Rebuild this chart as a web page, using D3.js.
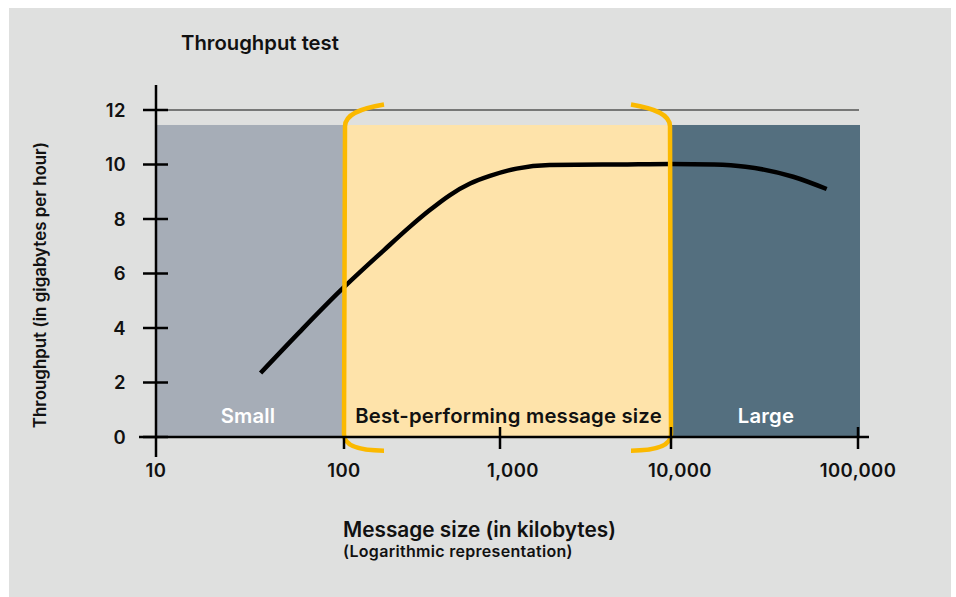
<!DOCTYPE html>
<html>
<head>
<meta charset="utf-8">
<script src="https://cdn.jsdelivr.net/npm/d3@7"></script>
<style>
  body { margin: 0; background: #fff; }
  text { font-family: Inter, "Liberation Sans", sans-serif; font-weight: 600; fill: #111; }
</style>
</head>
<body>
<div id="chart"></div>
<script>
// message size ticks (kilobytes) and y ticks
var xTicks = [10, 100, 1000, 10000, 100000];
var xTickLabels = ['10', '100', '1,000', '10,000', '100,000'];
var yTicks = [0, 2, 4, 6, 8, 10, 12];

// size bands
var bands = [
  { name: 'Small', from: 10, to: 100, fill: '#a6adb7', text: '#fff' },
  { name: 'Best-performing message size', from: 100, to: 10000, fill: '#fee3aa', text: '#111' },
  { name: 'Large', from: 10000, to: 100000, fill: '#546f7f', text: '#fff' }
];
var bandTop = 11.45;

// throughput curve
var sizes = [36, 58, 95, 180, 265, 350, 478, 643, 862, 1250, 1950, 5000, 10000, 17000, 25000, 45000, 68000];
var throughput = [2.35, 3.85, 5.35, 6.85, 7.72, 8.3, 8.88, 9.3, 9.58, 9.85, 9.98, 10.0, 10.02, 10.0, 9.92, 9.55, 9.1];

var width = 956, height = 597;

var svg = d3.select('#chart').append('svg')
  .attr('width', width)
  .attr('height', height);

// background panel
svg.append('rect')
  .attr('x', 9).attr('y', 8)
  .attr('width', 942).attr('height', 589)
  .attr('fill', '#dfe0df');

// the drawing is not a true log axis: each decade has its own width
var x = d3.scaleLog()
  .domain(xTicks)
  .range([156, 344, 500, 671, 858]);

var y = d3.scaleLinear()
  .domain([0, 12])
  .range([437, 110]);

// bands
svg.selectAll('rect.band')
  .data(bands)
  .enter().append('rect')
  .attr('class', 'band')
  .attr('x', function(d) { return x(d.from); })
  .attr('y', y(bandTop))
  .attr('width', function(d) { return x(d.to) - x(d.from) + (d.name === 'Large' ? 2 : 0); })
  .attr('height', y(0) - y(bandTop))
  .attr('fill', function(d) { return d.fill; });

svg.selectAll('text.band-label')
  .data(bands)
  .enter().append('text')
  .attr('class', 'band-label')
  .attr('x', function(d) { return d.name === 'Large' ? x(d.from) + 95 : (x(d.from) + x(d.to)) / 2 + (d.name === 'Small' ? -2 : 1); })
  .attr('y', 423)
  .attr('text-anchor', 'middle')
  .style('fill', function(d) { return d.text; })
  .style('font-size', '20.3px')
  .style('letter-spacing', '0.2px')
  .text(function(d) { return d.name; });

// 12 gridline
svg.append('line')
  .attr('x1', x(10)).attr('x2', x(100000) + 1)
  .attr('y1', y(12)).attr('y2', y(12))
  .attr('stroke', '#111').attr('stroke-width', 1.2);

// curve
var line = d3.line()
  .x(function(d, i) { return x(sizes[i]); })
  .y(function(d) { return y(d); })
  .curve(d3.curveMonotoneX);

svg.append('path')
  .datum(throughput)
  .attr('d', line)
  .attr('fill', 'none')
  .attr('stroke', '#000')
  .attr('stroke-width', 4.5);

// brackets around the best-performing band
var bTop = y(12.2), bBot = y(-0.5), bIn = y(11.4), bOut = y(0.1);
function bracket(xv, dir) {
  var px = x(xv), w = 40 * dir;
  return 'M' + (px + w) + ',' + bTop +
    'C' + (px + w * 0.4) + ',' + (bTop + 4) + ' ' + (px + 1 * dir) + ',' + (bTop + 10) + ' ' + (px + 1 * dir) + ',' + bIn +
    'L' + px + ',' + bOut +
    'C' + px + ',' + (bBot - 6) + ' ' + (px + w * 0.3) + ',' + bBot + ' ' + (px + w) + ',' + bBot;
}
svg.selectAll('path.bracket')
  .data([[100, 1], [10000, -1]])
  .enter().append('path')
  .attr('class', 'bracket')
  .attr('d', function(d) { return bracket(d[0], d[1]); })
  .attr('fill', 'none')
  .attr('stroke', '#fbb900')
  .attr('stroke-width', 4.5)
  .attr('stroke-linecap', 'butt');

// axes
var axisG = svg.append('g');

axisG.append('line')
  .attr('x1', x(10)).attr('x2', x(10))
  .attr('y1', 85).attr('y2', 457)
  .attr('stroke', '#000').attr('stroke-width', 2.5);

axisG.append('line')
  .attr('x1', 139).attr('x2', 869)
  .attr('y1', y(0)).attr('y2', y(0))
  .attr('stroke', '#000').attr('stroke-width', 2.5);

axisG.selectAll('line.ytick')
  .data(yTicks)
  .enter().append('line')
  .attr('class', 'ytick')
  .attr('x1', 143).attr('x2', 168)
  .attr('y1', function(d) { return y(d); })
  .attr('y2', function(d) { return y(d); })
  .attr('stroke', '#000').attr('stroke-width', 2.5);

axisG.selectAll('text.ylabel')
  .data(yTicks)
  .enter().append('text')
  .attr('class', 'ylabel')
  .attr('x', 126)
  .attr('y', function(d) { return y(d); })
  .attr('dy', '0.36em')
  .attr('text-anchor', 'end')
  .style('font-size', '18.5px')
  .style('letter-spacing', '0.4px')
  .text(function(d) { return d; });

axisG.selectAll('line.xtick')
  .data(xTicks.slice(1))
  .enter().append('line')
  .attr('class', 'xtick')
  .attr('x1', function(d) { return x(d); })
  .attr('x2', function(d) { return x(d); })
  .attr('y1', function(d) { return d === 100 ? y(0) : y(0) - 10; })
  .attr('y2', 449)
  .attr('stroke', '#000').attr('stroke-width', 2.5);

axisG.selectAll('text.xlabel')
  .data(xTicks)
  .enter().append('text')
  .attr('class', 'xlabel')
  .attr('x', function(d, i) { return x(d) + (i === 2 ? 13 : i === 3 ? 9 : 0); })
  .attr('y', 477)
  .attr('text-anchor', 'middle')
  .style('font-size', '18.5px')
  .style('letter-spacing', '0.4px')
  .text(function(d, i) { return xTickLabels[i]; });

// titles
svg.append('text')
  .attr('x', 181).attr('y', 50)
  .style('font-size', '20.3px')
  .text('Throughput test');

svg.append('text')
  .attr('transform', 'translate(46,285) rotate(-90)')
  .attr('text-anchor', 'middle')
  .style('font-size', '16.9px')
  .text('Throughput (in gigabytes per hour)');

svg.append('text')
  .attr('x', 343).attr('y', 537)
  .style('font-size', '20.8px')
  .text('Message size (in kilobytes)');

svg.append('text')
  .attr('x', 343).attr('y', 557)
  .style('font-size', '16px')
  .style('letter-spacing', '0.3px')
  .text('(Logarithmic representation)');
</script>
</body>
</html>
